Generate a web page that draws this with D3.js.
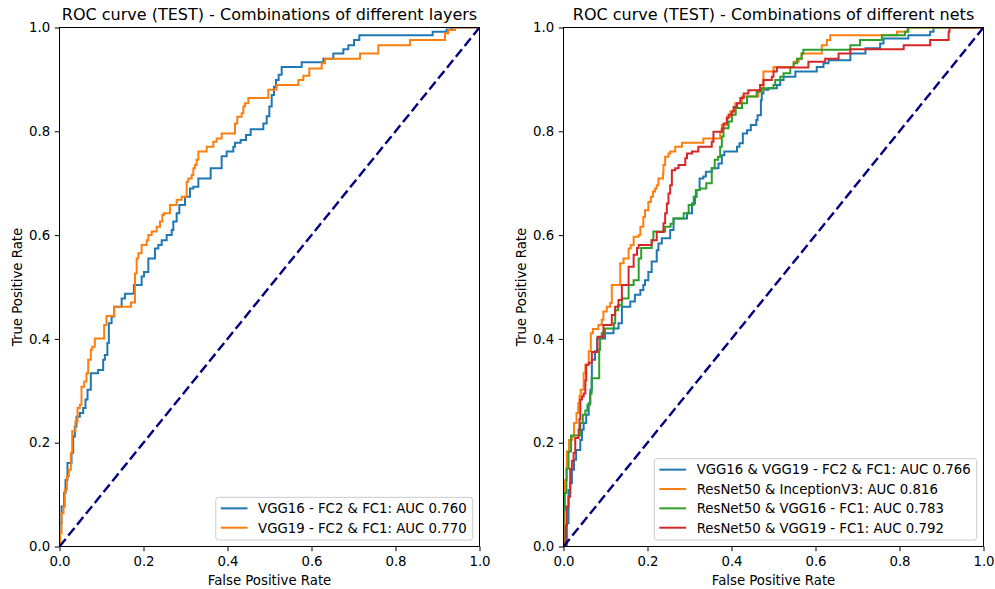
<!DOCTYPE html>
<html>
<head>
<meta charset="utf-8">
<script src="https://cdn.jsdelivr.net/npm/d3@7"></script>
<style>
  body { margin: 0; background: #fff; }
  svg { font-family: "DejaVu Sans", sans-serif; }
</style>
</head>
<body>
<div id="chart"></div>
<script>
// ROC points: [fpr, tpr] -- at each fpr the curve rises to tpr
const vgg16Layers = [[0,0],[0,0.045],[0.0048,0.077],[0.011,0.103],[0.0143,0.128],[0.019,0.161],[0.0286,0.18],[0.0325,0.212],[0.0365,0.231],[0.0405,0.25],[0.0484,0.257],[0.0563,0.267],[0.0619,0.283],[0.0667,0.302],[0.0746,0.334],[0.092,0.34],[0.104,0.36],[0.108,0.369],[0.114,0.392],[0.1175,0.43],[0.124,0.443],[0.13,0.462],[0.148,0.478],[0.156,0.487],[0.177,0.504],[0.1956,0.52],[0.2012,0.529],[0.2115,0.555],[0.2274,0.574],[0.2353,0.581],[0.2433,0.59],[0.2552,0.6],[0.2671,0.61],[0.271,0.626],[0.279,0.642],[0.2853,0.658],[0.2988,0.674],[0.3107,0.69],[0.3187,0.693],[0.3306,0.709],[0.3599,0.729],[0.3861,0.752],[0.398,0.761],[0.4139,0.77],[0.4179,0.778],[0.4313,0.783],[0.444,0.793],[0.4552,0.804],[0.4853,0.815],[0.4933,0.829],[0.4996,0.848],[0.5052,0.87],[0.5107,0.886],[0.5155,0.899],[0.5218,0.909],[0.529,0.924],[0.5766,0.933],[0.6282,0.94],[0.652,0.95],[0.6758,0.958],[0.6877,0.966],[0.7012,0.976],[0.7139,0.985],[0.8885,0.992],[0.9218,0.996],[0.9337,1],[1,1]];

const vgg19Layers = [[0,0],[0.0016,0.026],[0.0048,0.064],[0.0095,0.077],[0.0127,0.109],[0.0175,0.135],[0.0222,0.148],[0.027,0.18],[0.0302,0.222],[0.038,0.241],[0.0429,0.267],[0.0484,0.273],[0.0524,0.308],[0.0587,0.318],[0.0643,0.334],[0.0683,0.36],[0.0746,0.379],[0.0778,0.385],[0.0841,0.401],[0.1063,0.427],[0.1119,0.444],[0.13,0.462],[0.17,0.47],[0.1798,0.526],[0.1837,0.555],[0.1877,0.565],[0.1956,0.581],[0.2075,0.59],[0.2115,0.6],[0.2194,0.607],[0.2313,0.616],[0.2393,0.626],[0.2448,0.639],[0.2488,0.642],[0.2631,0.658],[0.279,0.668],[0.2909,0.674],[0.3028,0.703],[0.3067,0.709],[0.3147,0.716],[0.3187,0.729],[0.3226,0.735],[0.3266,0.745],[0.3306,0.761],[0.3504,0.77],[0.3663,0.78],[0.3742,0.786],[0.3861,0.796],[0.4179,0.815],[0.4234,0.828],[0.4337,0.835],[0.4377,0.848],[0.4417,0.854],[0.4496,0.864],[0.4972,0.88],[0.517,0.889],[0.5687,0.899],[0.5806,0.907],[0.5948,0.921],[0.6242,0.931],[0.6321,0.94],[0.7155,0.95],[0.759,0.966],[0.8345,0.976],[0.9179,0.989],[0.9258,0.995],[0.9417,1],[1,1]];

const vgg16Vgg19Nets = [[0,0],[0.008,0.045],[0.012,0.109],[0.016,0.122],[0.02,0.148],[0.025,0.167],[0.03,0.186],[0.04,0.205],[0.044,0.225],[0.048,0.238],[0.054,0.254],[0.06,0.276],[0.064,0.302],[0.0675,0.36],[0.075,0.376],[0.08,0.401],[0.099,0.411],[0.119,0.42],[0.131,0.43],[0.139,0.462],[0.159,0.472],[0.17,0.485],[0.183,0.494],[0.19,0.504],[0.194,0.513],[0.202,0.529],[0.21,0.549],[0.222,0.571],[0.226,0.584],[0.234,0.594],[0.254,0.61],[0.262,0.632],[0.294,0.642],[0.306,0.661],[0.313,0.674],[0.317,0.687],[0.324,0.709],[0.333,0.713],[0.339,0.722],[0.353,0.729],[0.369,0.738],[0.377,0.754],[0.383,0.761],[0.413,0.77],[0.419,0.777],[0.427,0.796],[0.437,0.802],[0.446,0.812],[0.459,0.822],[0.462,0.831],[0.47,0.86],[0.472,0.873],[0.476,0.88],[0.488,0.883],[0.508,0.889],[0.516,0.899],[0.524,0.905],[0.552,0.915],[0.603,0.924],[0.619,0.931],[0.631,0.937],[0.683,0.95],[0.719,0.96],[0.754,0.969],[0.762,0.979],[0.821,0.985],[0.873,0.992],[0.881,1],[1,1]];

const resnetInceptionNets = [[0,0],[0.003,0.128],[0.008,0.183],[0.013,0.205],[0.02,0.212],[0.025,0.238],[0.031,0.257],[0.035,0.276],[0.038,0.29],[0.041,0.302],[0.048,0.334],[0.052,0.35],[0.06,0.376],[0.065,0.411],[0.07,0.419],[0.083,0.427],[0.091,0.437],[0.095,0.453],[0.103,0.462],[0.111,0.469],[0.115,0.504],[0.135,0.546],[0.143,0.555],[0.155,0.574],[0.16,0.581],[0.167,0.597],[0.179,0.6],[0.183,0.616],[0.19,0.635],[0.194,0.648],[0.202,0.664],[0.208,0.674],[0.213,0.684],[0.218,0.69],[0.222,0.696],[0.226,0.709],[0.237,0.719],[0.238,0.735],[0.242,0.751],[0.25,0.757],[0.254,0.761],[0.266,0.77],[0.282,0.778],[0.333,0.786],[0.373,0.799],[0.377,0.812],[0.389,0.828],[0.397,0.838],[0.409,0.854],[0.425,0.867],[0.464,0.879],[0.476,0.915],[0.5,0.924],[0.548,0.934],[0.56,0.94],[0.567,0.95],[0.615,0.966],[0.627,0.976],[0.635,0.985],[0.794,0.992],[0.819,1],[1,1]];

const resnetVgg16Nets = [[0,0],[0,0.07],[0.003,0.103],[0.007,0.15],[0.012,0.183],[0.018,0.214],[0.04,0.238],[0.046,0.254],[0.052,0.262],[0.057,0.273],[0.063,0.295],[0.067,0.324],[0.085,0.379],[0.087,0.401],[0.091,0.411],[0.099,0.42],[0.12,0.43],[0.123,0.455],[0.13,0.465],[0.139,0.478],[0.155,0.504],[0.167,0.513],[0.179,0.555],[0.185,0.575],[0.21,0.59],[0.214,0.607],[0.242,0.616],[0.255,0.622],[0.262,0.632],[0.286,0.642],[0.298,0.658],[0.31,0.674],[0.315,0.687],[0.325,0.69],[0.34,0.7],[0.353,0.729],[0.36,0.745],[0.368,0.751],[0.373,0.77],[0.377,0.79],[0.381,0.806],[0.393,0.819],[0.401,0.832],[0.41,0.845],[0.425,0.854],[0.437,0.867],[0.46,0.876],[0.472,0.883],[0.5,0.889],[0.504,0.899],[0.516,0.905],[0.524,0.912],[0.54,0.924],[0.548,0.931],[0.556,0.94],[0.567,0.95],[0.571,0.957],[0.683,0.966],[0.706,0.976],[0.758,0.985],[0.813,0.992],[0.821,1],[1,1]];

const resnetVgg19Nets = [[0,0],[0.005,0.04],[0.008,0.077],[0.012,0.096],[0.016,0.15],[0.02,0.165],[0.024,0.18],[0.028,0.209],[0.036,0.225],[0.038,0.245],[0.04,0.283],[0.044,0.289],[0.048,0.295],[0.052,0.32],[0.054,0.35],[0.06,0.354],[0.0675,0.375],[0.081,0.404],[0.095,0.427],[0.115,0.446],[0.123,0.462],[0.131,0.475],[0.139,0.504],[0.155,0.539],[0.167,0.562],[0.175,0.575],[0.179,0.581],[0.21,0.59],[0.222,0.606],[0.238,0.623],[0.242,0.642],[0.246,0.661],[0.25,0.68],[0.254,0.696],[0.258,0.725],[0.266,0.729],[0.274,0.735],[0.29,0.748],[0.294,0.757],[0.306,0.761],[0.321,0.77],[0.353,0.78],[0.357,0.799],[0.377,0.805],[0.381,0.815],[0.389,0.825],[0.393,0.832],[0.401,0.838],[0.405,0.847],[0.413,0.854],[0.421,0.864],[0.429,0.873],[0.44,0.879],[0.468,0.889],[0.476,0.899],[0.496,0.905],[0.5,0.915],[0.508,0.923],[0.583,0.934],[0.623,0.94],[0.655,0.95],[0.683,0.958],[0.81,0.966],[0.873,0.976],[0.917,0.992],[0.919,1],[1,1]];

const layerLabels = ['VGG16 - FC2 & FC1: AUC 0.760', 'VGG19 - FC2 & FC1: AUC 0.770'];
const netLabels = ['VGG16 & VGG19 - FC2 & FC1: AUC 0.766', 'ResNet50 & InceptionV3: AUC 0.816',
                   'ResNet50 & VGG16 - FC1: AUC 0.783', 'ResNet50 & VGG19 - FC1: AUC 0.792'];
const tickValues = [0, 0.2, 0.4, 0.6, 0.8, 1.0];
const colors = ['#1f77b4', '#ff7f0e', '#2ca02c', '#d62728'];

const width = 995, height = 589;
const axTop = 27.5, axBottom = 546.5;
const fontSize = 13.3;

const svg = d3.select('#chart')
    .append('svg')
    .attr('width', width)
    .attr('height', height);

function drawPanel(id, left, right, title, series, labels)
{
    const x = d3.scaleLinear().domain([0, 1]).range([left, right]);
    const y = d3.scaleLinear().domain([0, 1]).range([axBottom, axTop]);

    const g = svg.append('g');

    g.append('clipPath').attr('id', 'clip' + id)
        .append('rect')
        .attr('x', left).attr('y', axTop)
        .attr('width', right - left).attr('height', axBottom - axTop);

    const line = d3.line()
        .x(d => x(d[0]))
        .y(d => y(d[1]))
        .curve(d3.curveStepAfter);

    const plot = g.append('g').attr('clip-path', `url(#clip${id})`);

    series.forEach((s, i) => {
        plot.append('path')
            .attr('d', line(s))
            .attr('fill', 'none')
            .attr('stroke', colors[i])
            .attr('stroke-width', 2);
    });

    // chance line
    plot.append('path')
        .attr('d', d3.line().x(d => x(d)).y(d => y(d))([0, 1]))
        .attr('stroke', '#000080')
        .attr('stroke-width', 2.4)
        .attr('stroke-dasharray', '9.8,4.2');

    // axes
    const xAxis = d3.axisBottom(x).tickValues(tickValues).tickFormat(d3.format('.1f'))
        .tickSizeInner(4.7).tickSizeOuter(0).tickPadding(5);
    const yAxis = d3.axisLeft(y).tickValues(tickValues).tickFormat(d3.format('.1f'))
        .tickSizeInner(4.7).tickSizeOuter(0).tickPadding(4.6);

    const gx = g.append('g').attr('transform', `translate(0,${axBottom})`).call(xAxis);
    const gy = g.append('g').attr('transform', `translate(${left},0)`).call(yAxis);
    [gx, gy].forEach(a => {
        a.select('.domain').remove();
        a.selectAll('line').attr('stroke', '#000').attr('stroke-width', 1);
        a.selectAll('text').attr('fill', '#000').style('font-size', fontSize + 'px')
            .style('font-family', '"DejaVu Sans", sans-serif');
    });

    g.append('rect')
        .attr('x', left).attr('y', axTop)
        .attr('width', right - left).attr('height', axBottom - axTop)
        .attr('fill', 'none').attr('stroke', '#000').attr('stroke-width', 1);

    // labels
    g.append('text')
        .attr('x', (left + right) / 2).attr('y', 19.6)
        .attr('text-anchor', 'middle')
        .style('font-size', '16px')
        .text(title);

    g.append('text')
        .attr('x', (left + right) / 2).attr('y', 585)
        .attr('text-anchor', 'middle')
        .style('font-size', fontSize + 'px')
        .text('False Positive Rate');

    g.append('text')
        .attr('transform', `translate(${left - 37.8},${(axTop + axBottom) / 2}) rotate(-90)`)
        .attr('text-anchor', 'middle')
        .style('font-size', fontSize + 'px')
        .text('True Positive Rate');

    // legend
    const leg = g.append('g');
    const frame = leg.append('rect');
    const texts = labels.map(t => leg.append('text')
        .style('font-size', fontSize + 'px')
        .text(t));
    const maxW = d3.max(texts, t => t.node().getComputedTextLength());
    const boxW = 5 + 26.7 + 10.6 + maxW + 6;
    const boxH = 11 + (labels.length - 1) * 19.35 + 12.3;
    const bx = right - 6.8 - boxW;
    const by = axBottom - 6.5 - boxH;
    frame.attr('x', bx).attr('y', by).attr('width', boxW).attr('height', boxH)
        .attr('rx', 2.7)
        .attr('fill', 'rgba(255,255,255,0.8)')
        .attr('stroke', '#cccccc').attr('stroke-width', 1);
    labels.forEach((t, i) => {
        const cy = by + 11 + i * 19.35;
        leg.append('line')
            .attr('x1', bx + 5).attr('x2', bx + 31.7)
            .attr('y1', cy).attr('y2', cy)
            .attr('stroke', colors[i]).attr('stroke-width', 2);
        texts[i].attr('x', bx + 42.3).attr('y', cy + 4.8);
    });
}

drawPanel('L', 59.5, 479.5, 'ROC curve (TEST) - Combinations of different layers',
    [vgg16Layers, vgg19Layers], layerLabels);
drawPanel('R', 563.5, 983.5, 'ROC curve (TEST) - Combinations of different nets',
    [vgg16Vgg19Nets, resnetInceptionNets, resnetVgg16Nets, resnetVgg19Nets], netLabels);
</script>
</body>
</html>
